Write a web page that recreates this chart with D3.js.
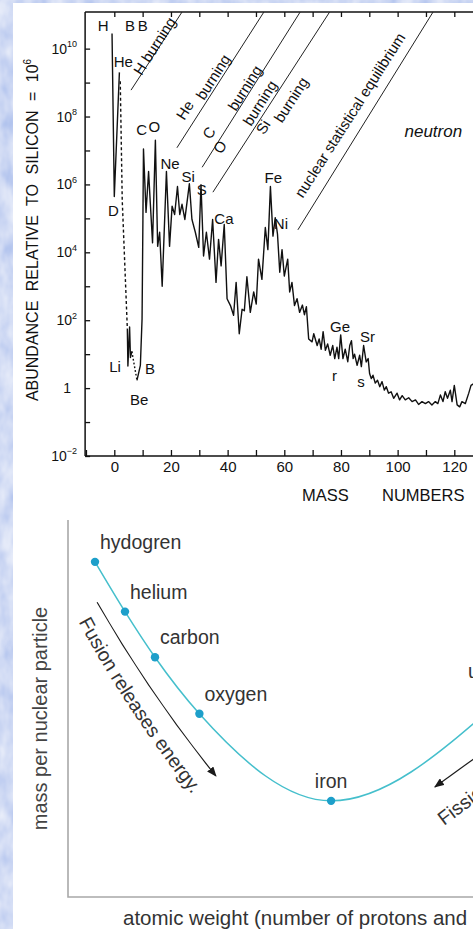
<!DOCTYPE html>
<html>
<head>
<meta charset="utf-8">
<script src="https://cdn.jsdelivr.net/npm/d3@7"></script>
<style>
  html, body { margin: 0; padding: 0; background: #fff; }
  svg { display: block; font-family: "Liberation Sans", Arial, Helvetica, sans-serif; }
</style>
</head>
<body>
<script>
// ---------- top panel: solar abundance vs mass number ----------
// H - D - He spike
const hMass = [-0.8, 0.0, 1.8];
const hAbund = [2.8e10, 4.4e5, 2.0e9];
// dashed drop from He towards Li
const heDashMass = [2.1, 2.8, 4.6];
const heDashAbund = [1.1e9, 3.5e5, 56];
// Li spikes
const liMass = [4.6, 4.8, 5.4, 5.7, 6.2];
const liAbund = [56, 4.5, 63, 8, 12];
// dotted Li -> Be
const beDotMass = [6.2, 8.0];
const beDotAbund = [12, 1.7];
// main curve, Be/B onward
const mainMass = [8.0, 9.2, 9.8, 10.1, 10.3, 11.2, 12.1, 12.7, 13.5, 14.5,
  15.3, 16.0, 16.9, 18.4, 19.5, 20.4, 21.3, 22.3, 23.1, 23.9,
  24.9, 26.5, 27.4, 28.6, 29.8, 30.6, 31.5, 32.5, 33.6, 34.7,
  35.9, 36.8, 37.7, 38.8, 39.8, 41.0, 42.1, 43.0, 44.1, 45.1,
  45.9, 46.8, 48.0, 49.2, 50.1, 50.9, 52.1, 53.3, 54.2, 55.1,
  56.0, 56.8, 57.6, 58.4, 59.2, 60.0, 61.2, 61.9, 62.7, 63.6,
  64.5, 65.4, 66.4, 67.1, 67.8, 68.6, 69.8, 70.4, 71.6, 72.3,
  73.0, 73.7, 74.5, 75.3, 76.2, 77.1, 77.8, 78.6, 79.2, 79.9,
  80.7, 81.5, 82.4, 83.1, 83.7, 84.3, 84.8, 85.7, 86.6, 87.2,
  88.0, 88.9, 89.6, 90.1, 90.7, 91.3, 92.1, 92.9, 93.7, 94.5,
  95.3, 96.0, 96.8, 97.7, 98.6, 99.8, 100.7, 101.6, 102.7, 103.9,
  105.1, 106.3, 107.4, 108.6, 109.8, 110.9, 112.1, 113.3, 114.2, 115.1,
  116.0, 116.8, 117.6, 118.6, 119.2, 120.0, 121.0, 121.9, 122.7, 123.9,
  125.1, 125.9, 127.1];
const mainAbund = [1.7, 4.7, 110, 9.3e4, 1.1e7, 1.5e5, 2.4e6, 2.9e5, 1.9e4, 2.0e7,
  1.5e4, 3.9e4, 1.0e3, 2.4e6, 1.5e4, 2.3e5, 1.3e5, 8.7e5, 1.3e5, 2.6e5,
  9.3e4, 1.05e6, 9.3e4, 3.9e4, 1.4e4, 9.8e5, 7.8e3, 3.9e4, 6.3e3, 9.3e4,
  1.3e3, 2.4e4, 4.0e3, 6.6e4, 430, 270, 140, 1.3e3, 40, 210,
  190, 1.9e3, 170, 680, 300, 6.3e3, 1.6e3, 5.4e4, 1.2e4, 8.7e5,
  3.0e4, 1.05e5, 3.4e4, 2.6e3, 1.2e4, 2.0e3, 6.3e3, 680, 1.3e3, 270,
  430, 170, 280, 145, 250, 28, 23, 40, 18, 28,
  14, 46, 13, 20, 9.3, 18, 7.4, 16, 7.4, 37,
  7.4, 14, 6.0, 18, 25, 7.4, 10, 4.7, 9.3, 4.3,
  18, 5.9, 7.4, 2.7, 1.9, 2.4, 1.4, 1.7, 1.1, 1.55,
  0.87, 1.1, 0.71, 0.78, 0.50, 0.71, 0.45, 0.60, 0.45, 0.52,
  0.40, 0.45, 0.33, 0.40, 0.35, 0.40, 0.32, 0.40, 0.35, 0.63,
  0.40, 0.78, 0.50, 0.87, 0.40, 1.2, 0.32, 0.28, 0.40, 0.35,
  0.71, 1.2, 1.4];

const xTicks = [-10, 0, 10, 20, 30, 40, 50, 60, 70, 80, 90, 100, 110, 120, 130];
const yTickPowers = [10, 8, 6, 4, 2, 0, -2];

// element labels: [text, mass, abundance]
const elementLabels = [
  ["H", -3.9, 4.9e10], ["B", 5.5, 4.9e10], ["B", 10.0, 4.9e10],
  ["He", 3.2, 4.1e9], ["D", -0.35, 1.7e5], ["Li", 0.25, 4.3],
  ["B", 12.6, 3.8], ["Be", 8.8, 0.47], ["C", 9.7, 4.2e7], ["O", 14.1, 5.0e7],
  ["Ne", 19.7, 4.2e6], ["Si", 26.1, 1.7e6], ["S", 30.9, 7.2e5],
  ["Ca", 38.7, 1.0e5], ["Fe", 56.1, 1.6e6], ["Ni", 58.8, 7.1e4],
  ["Ge", 79.7, 65], ["Sr", 89.4, 32], ["r", 77.7, 2.3], ["s", 87.1, 1.55]
];

// burning-stage boundaries: [lowMass, lowAbund, mass where the line meets the top frame]
const stageLines = [
  [5.9, 6.0e8, 23.9],
  [22.1, 1.2e7, 52.8],
  [31.0, 3.2e6, 65.6],
  [34.8, 5.9e5, 76.0],
  [64.8, 4.6e4, 112.5]
];
// rotated stage words: [text, centre mass, centre abundance]
const stageWords = [
  ["H burning", 14.2, 1.2e10],
  ["He", 24.96, 1.55e8], ["burning", 34.84, 1.46e9],
  ["C", 33.4, 3.3e7], ["burning", 46.1, 6.9e8],
  ["O", 37.3, 1.26e7], ["burning", 51.4, 2.5e8],
  ["Si", 52.5, 4.9e7], ["burning", 62.4, 3.1e8],
  ["nuclear statistical equilibrium", 83.2, 1.1e8]
];

// ---------- bottom panel: mass per nuclear particle ----------
const elementNames = ["hydogren", "helium", "carbon", "oxygen", "iron", "uranium"];
const elementWeight = [0, 1, 2, 3.48, 7.87, 13.2];
const massPerParticle = [88.9, 75.7, 63.6, 48.6, 25.5, 50.0];

document.addEventListener("DOMContentLoaded", function () {
    const W = 473, H = 929;
    const svg = d3.select("body").append("svg")
        .attr("width", W)
        .attr("height", H);

    const defs = svg.append("defs");

    // mottled blue page background
    const f = defs.append("filter").attr("id", "mottle")
        .attr("x", 0).attr("y", 0).attr("width", "100%").attr("height", "100%");
    f.append("feTurbulence").attr("type", "fractalNoise")
        .attr("baseFrequency", "0.06 0.035").attr("numOctaves", 3).attr("seed", 4);
    f.append("feColorMatrix").attr("type", "matrix")
        .attr("values", "0.55 0 0 0 0.36  0.45 0 0 0 0.48  0.15 0 0 0 0.83  0 0 0 0 1");

    defs.append("marker").attr("id", "arrow")
        .attr("viewBox", "0 0 10 8").attr("refX", 9).attr("refY", 4)
        .attr("markerWidth", 10).attr("markerHeight", 8)
        .attr("markerUnits", "userSpaceOnUse").attr("orient", "auto")
        .append("path").attr("d", "M0,0 L10,4 L0,8 Z").attr("fill", "#1a1a1a");

    svg.append("rect").attr("width", W).attr("height", H)
        .attr("filter", "url(#mottle)");
    svg.append("rect").attr("x", 13).attr("y", 3)
        .attr("width", W - 13).attr("height", H - 3).attr("fill", "#fff");

    // ===== top panel =====
    const x = d3.scaleLinear().domain([0, 120]).range([114.3, 454.3]);
    const y = d3.scaleLog().domain([1e-2, 1.2e11]).range([456, 12]);
    const x0 = x(-10.3);
    const yTop = y.range()[1], yBot = y.range()[0];

    const top = svg.append("g");

    const frame = top.append("g").attr("stroke", "#111").attr("stroke-width", 1.5);
    frame.append("line").attr("x1", x0).attr("x2", x0).attr("y1", yTop).attr("y2", yBot);
    frame.append("line").attr("x1", x0).attr("x2", W + 5).attr("y1", yBot).attr("y2", yBot);
    frame.append("line").attr("x1", x0).attr("x2", W + 5).attr("y1", yTop).attr("y2", yTop);

    const xAxis = top.append("g")
        .attr("transform", `translate(0,${yBot})`)
        .call(d3.axisBottom(x).tickValues(xTicks).tickSizeInner(-6).tickSizeOuter(0).tickPadding(5)
            .tickFormat(d => (d >= 0 && d % 20 === 0) ? d : ""));
    xAxis.select(".domain").remove();
    xAxis.selectAll("line").attr("stroke", "#111").attr("stroke-width", 1.3);
    xAxis.selectAll("text").attr("font-size", 15).attr("fill", "#111")
        .attr("font-family", "'Liberation Sans', Arial, sans-serif");

    const xTop = top.append("g")
        .attr("transform", `translate(0,${yTop})`)
        .call(d3.axisTop(x).tickValues(xTicks.filter(d => d > -10)).tickSizeInner(-5).tickSizeOuter(0).tickFormat(""));
    xTop.select(".domain").remove();
    xTop.selectAll("line").attr("stroke", "#111").attr("stroke-width", 1.3);

    const yAxis = top.append("g")
        .attr("transform", `translate(${x0},0)`)
        .call(d3.axisLeft(y).tickValues(d3.range(-2, 11).map(e => Math.pow(10, e)))
            .tickSizeInner(-5).tickSizeOuter(0).tickFormat(""));
    yAxis.select(".domain").remove();
    yAxis.selectAll("line").attr("stroke", "#111").attr("stroke-width", 1.3);

    const yLab = top.append("g").attr("fill", "#111");
    yTickPowers.forEach(p => {
        const t = yLab.append("text")
            .attr("x", p === 0 ? 71 : 77)
            .attr("y", y(Math.pow(10, p)))
            .attr("dy", "0.36em")
            .attr("text-anchor", "end")
            .attr("font-size", 14);
        if (p === 0) {
            t.text("1");
        } else {
            t.append("tspan").text("10");
            t.append("tspan").attr("font-size", 9).attr("dy", "-0.75em").text(p < 0 ? "−2" : p);
        }
    });

    // axis titles
    const yt = top.append("text")
        .attr("transform", `translate(38,${230}) rotate(-90)`)
        .attr("text-anchor", "middle")
        .attr("font-size", 16)
        .attr("word-spacing", 5)
        .attr("fill", "#111");
    yt.append("tspan").text("ABUNDANCE RELATIVE TO SILICON = 10");
    yt.append("tspan").attr("font-size", 10).attr("dy", "-0.7em").text("6");

    top.append("text").attr("x", 302).attr("y", 501).attr("font-size", 16.5)
        .attr("fill", "#111").text("MASS");
    top.append("text").attr("x", 382).attr("y", 501).attr("font-size", 16.5)
        .attr("fill", "#111").text("NUMBERS");

    // burning-stage boundaries and words
    const burnG = top.append("g");
    let ang = 0;
    stageLines.forEach(b => {
        burnG.append("line")
            .attr("x1", x(b[0])).attr("y1", y(b[1]))
            .attr("x2", x(b[2])).attr("y2", yTop)
            .attr("stroke", "#222").attr("stroke-width", 1);
        ang += Math.atan2(yTop - y(b[1]), x(b[2]) - x(b[0])) * 180 / Math.PI / stageLines.length;
    });
    burnG.selectAll("text").data(stageWords).enter().append("text")
        .attr("transform", d => `translate(${x(d[1])},${y(d[2])}) rotate(${ang})`)
        .attr("dy", "0.35em")
        .attr("text-anchor", "middle")
        .attr("font-size", 15)
        .attr("fill", "#111")
        .text(d => d[0]);

    top.append("text")
        .attr("x", x(112.6)).attr("y", y(3.7e7)).attr("dy", "0.35em")
        .attr("text-anchor", "middle").attr("font-size", 17)
        .attr("font-style", "italic").attr("fill", "#111")
        .text("neutron");

    // curves
    const line = d3.line().x(d => x(d[0])).y(d => y(d[1]));
    const zip = (a, b) => a.map((v, i) => [v, b[i]]);
    const curves = top.append("g").attr("fill", "none").attr("stroke", "#111")
        .attr("stroke-width", 1.4).attr("stroke-linejoin", "round");
    curves.append("path").attr("d", line(zip(hMass, hAbund)));
    curves.append("path").attr("d", line(zip(heDashMass, heDashAbund))).attr("stroke-dasharray", "3,2.5");
    curves.append("path").attr("d", line(zip(liMass, liAbund)));
    curves.append("path").attr("d", line(zip(beDotMass, beDotAbund))).attr("stroke-dasharray", "1.6,2.2");
    curves.append("path").attr("d", line(zip(mainMass, mainAbund)));

    top.append("g").attr("fill", "#111").attr("font-size", 15)
        .selectAll("text").data(elementLabels).enter().append("text")
        .attr("x", d => x(d[1])).attr("y", d => y(d[2]))
        .attr("dy", "0.36em").attr("text-anchor", "middle")
        .text(d => d[0]);

    // ===== bottom panel =====
    const x2 = d3.scaleLinear().domain([0, 10]).range([95, 395]);
    const y2 = d3.scaleLinear().domain([0, 100]).range([897, 520]);
    const bx0 = x2(-0.9);

    const bot = svg.append("g");
    bot.append("path")
        .attr("d", `M${bx0},${y2(100)} V${y2(0)} H${W + 5}`)
        .attr("fill", "none").attr("stroke", "#a8a8a8").attr("stroke-width", 1.6);

    const pts = elementWeight.map((w, i) => [w, massPerParticle[i]]);
    bot.append("path")
        .attr("d", d3.line().x(d => x2(d[0])).y(d => y2(d[1])).curve(d3.curveMonotoneX)(pts))
        .attr("fill", "none").attr("stroke", "#45bfcc").attr("stroke-width", 1.5);
    bot.selectAll("circle").data(pts).enter().append("circle")
        .attr("cx", d => x2(d[0])).attr("cy", d => y2(d[1])).attr("r", 4.2)
        .attr("fill", "#1d9fca");

    bot.append("g").attr("fill", "#333").attr("font-size", 19.5)
        .selectAll("text").data(elementNames).enter().append("text")
        .attr("x", (d, i) => i === 5 ? x2(elementWeight[i]) - 23 : x2(elementWeight[i]) + (i === 4 ? 0 : 5))
        .attr("y", (d, i) => i === 5 ? y2(massPerParticle[i]) - 31 : y2(massPerParticle[i]) - 13)
        .attr("text-anchor", (d, i) => i === 4 ? "middle" : "start")
        .text(d => d);

    // fusion arrow and text
    const q = (a, b, c) => `M${x2(a[0])},${y2(a[1])} Q${x2(b[0])},${y2(b[1])} ${x2(c[0])},${y2(c[1])}`;
    bot.append("path").attr("d", q([0.07, 78.2], [1.83, 53.8], [4.03, 32.1]))
        .attr("fill", "none").attr("stroke", "#1a1a1a").attr("stroke-width", 1.2)
        .attr("marker-end", "url(#arrow)");
    defs.append("path").attr("id", "fusionPath")
        .attr("d", q([-0.55, 73.0], [1.15, 47.5], [4.0, 19.5]));
    bot.append("text").attr("font-size", 19.5).attr("fill", "#333")
        .append("textPath").attr("href", "#fusionPath")
        .text("Fusion releases energy.");

    // fission arrow and text
    bot.append("line")
        .attr("x1", x2(12.67)).attr("y1", y2(36.9))
        .attr("x2", x2(11.33)).attr("y2", y2(29.2))
        .attr("stroke", "#1a1a1a").attr("stroke-width", 1.2)
        .attr("marker-end", "url(#arrow)");
    bot.append("text")
        .attr("transform", `translate(${x2(11.63)},${y2(18.8)}) rotate(-37)`)
        .attr("font-size", 19.5).attr("fill", "#333")
        .text("Fission releases energy.");

    bot.append("text")
        .attr("transform", `translate(${bx0 - 21},${(y2(100) + y2(0)) / 2 + 10}) rotate(-90)`)
        .attr("text-anchor", "middle").attr("font-size", 20).attr("fill", "#444")
        .text("mass per nuclear particle");

    bot.append("text")
        .attr("x", 123).attr("y", 925)
        .attr("font-size", 20.5).attr("fill", "#333")
        .text("atomic weight (number of protons and neutrons)");
});
</script>
</body>
</html>
